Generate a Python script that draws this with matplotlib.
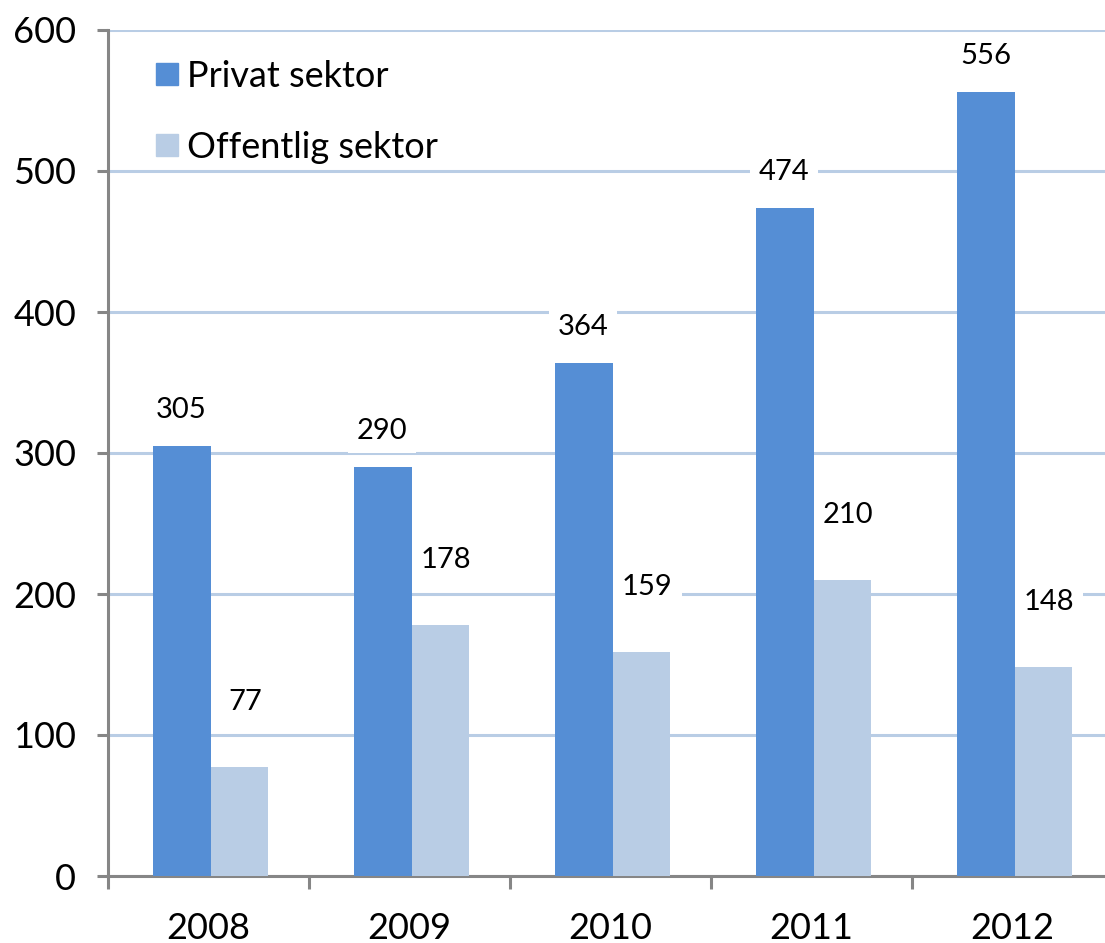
import matplotlib.pyplot as plt
from matplotlib.lines import Line2D
import numpy as np

years = ['2008', '2009', '2010', '2011', '2012']
privat = [305, 290, 364, 474, 556]
offentlig = [77, 178, 159, 210, 148]

dark = '#558ED5'
light = '#B9CDE5'
grid_col = '#B9CDE5'
axis_col = '#868686'

plt.rcParams['font.family'] = ['Lato', 'DejaVu Sans']

fig = plt.figure(figsize=(11.05, 9.43), dpi=100)
ax = fig.add_axes([108 / 1105, 67 / 943, 1005 / 1105, 846 / 943])

x = np.arange(len(years))
w = 0.284
ax.bar(x - w / 2 + 0.01, privat, w, color=dark, zorder=3)
ax.bar(x + w / 2 + 0.01, offentlig, w, color=light, zorder=3)

# value labels with white box so the grid is cut
for xi, v in zip(x, privat):
    ax.annotate(str(v), (xi - w / 2, v), xytext=(1, 26), textcoords='offset points',
                ha='center', va='center', fontsize=21, zorder=5,
                bbox=dict(boxstyle='square,pad=0.3', fc='white', ec='none'))
for xi, v in zip(x, offentlig):
    ax.annotate(str(v), (xi + w / 2, v), xytext=(6, 47), textcoords='offset points',
                ha='center', va='center', fontsize=21, zorder=5,
                bbox=dict(boxstyle='square,pad=0.3', fc='white', ec='none'))

ax.set_xlim(-0.5, len(years) - 0.5)
ax.set_ylim(0, 600)
ax.set_yticks(range(0, 601, 100))
ax.yaxis.grid(True, color=grid_col, lw=2.2, zorder=0)
ax.set_axisbelow(True)

ax.set_xticks(x)
ax.set_xticklabels(years, fontsize=26)
ax.set_xticks(np.arange(-0.5, len(years), 1), minor=True)
ax.tick_params(axis='x', which='major', length=0, pad=26)
ax.tick_params(axis='x', which='minor', length=9, width=2.2, color=axis_col, direction='out')
ax.tick_params(axis='y', labelsize=26, length=8, width=2.2, color=axis_col, pad=15)

for s in ['top', 'right']:
    ax.spines[s].set_visible(False)
for s in ['left', 'bottom']:
    ax.spines[s].set_color(axis_col)
    ax.spines[s].set_linewidth(2.2)

handles = [Line2D([], [], marker='s', ls='none', color=dark, markersize=16),
           Line2D([], [], marker='s', ls='none', color=light, markersize=16)]
ax.legend(handles, ['Privat sektor', 'Offentlig sektor'], loc='upper left',
          bbox_to_anchor=(28 / 1005, 1 - 12 / 846), frameon=False, fontsize=26,
          handlelength=0.7, handletextpad=0.2, labelspacing=1.05, borderpad=0)

fig.savefig('out.png', dpi=100)
